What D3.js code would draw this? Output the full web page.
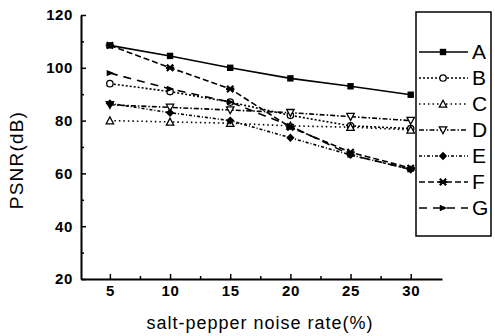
<!DOCTYPE html>
<html>
<head>
<meta charset="utf-8">
<script src="https://cdn.jsdelivr.net/npm/d3@7"></script>
<style>
  body { margin: 0; background: #fff; }
  svg { font-family: Arial, "Liberation Sans", sans-serif; }
</style>
</head>
<body>
<svg width="495" height="336"></svg>
<script>
const rates = [5, 10, 15, 20, 25, 30];
const names = ['A', 'B', 'C', 'D', 'E', 'F', 'G'];
const valuesA = [108.5, 104.5, 100, 96, 93, 89.8];
const valuesB = [94, 91, 87, 82, 78, 77];
const valuesC = [80, 79.5, 79, 78, 77.5, 76.5];
const valuesD = [86, 85, 84, 83, 81.5, 80];
const valuesE = [86.5, 83, 80, 73.5, 67, 61.5];
const valuesF = [108.5, 100, 92, 77.5, 68, 62];
const valuesG = [98, 92, 87, 78, 67, 61.5];
const yTicks = [20, 40, 60, 80, 100, 120];

const series = [valuesA, valuesB, valuesC, valuesD, valuesE, valuesF, valuesG];
const dashes = ['none', '2,2', '1.5,3', '5,2,1.5,2', '3,2,1,2', '6,3', '8,6'];
const markers = ['square', 'circle', 'triangle', 'triangleDown', 'diamond', 'star', 'arrow'];

const svg = d3.select('svg');

const x = d3.scaleLinear().domain([2.6, 32.6]).range([81, 442]);
const y = d3.scaleLinear().domain([20, 120]).range([279, 15]);

svg.append('g')
  .attr('transform', `translate(0, ${y(20)})`)
  .call(d3.axisBottom(x).tickValues(rates).tickSize(-5).tickSizeOuter(0).tickPadding(6));
svg.append('g')
  .attr('transform', `translate(0, ${y(20)})`)
  .call(d3.axisBottom(x).tickValues(d3.range(7.5, 31, 5)).tickSize(-3).tickFormat(''))
  .select('.domain').remove();

svg.append('g')
  .attr('transform', `translate(${x.range()[0]}, 0)`)
  .call(d3.axisLeft(y).tickValues(yTicks).tickSize(-5).tickSizeOuter(0).tickPadding(8));
svg.append('g')
  .attr('transform', `translate(${x.range()[0]}, 0)`)
  .call(d3.axisLeft(y).tickValues(d3.range(30, 111, 20)).tickSize(-3).tickFormat(''))
  .select('.domain').remove();

svg.selectAll('.domain').attr('stroke', '#000').attr('stroke-width', 2);
svg.selectAll('.tick line').attr('stroke', '#000').attr('stroke-width', 1.5);
svg.selectAll('.tick text')
  .attr('font-size', 15)
  .attr('font-weight', 'bold')
  .attr('letter-spacing', 0.6)
  .attr('fill', '#000');

svg.append('text')
  .attr('x', 260)
  .attr('y', 329)
  .attr('text-anchor', 'middle')
  .attr('font-size', 18)
  .attr('letter-spacing', 1)
  .text('salt-pepper noise rate(%)');

svg.append('text')
  .attr('transform', 'translate(23, 160) rotate(-90)')
  .attr('text-anchor', 'middle')
  .attr('font-size', 19)
  .attr('letter-spacing', 1.2)
  .text('PSNR(dB)');

function drawMarker(g, type, cx, cy) {
  const s = 3.2;
  switch (type) {
    case 'square':
      g.append('rect').attr('x', cx - s).attr('y', cy - s).attr('width', 2 * s).attr('height', 2 * s).attr('fill', '#000');
      break;
    case 'circle':
      g.append('circle').attr('cx', cx).attr('cy', cy).attr('r', s).attr('fill', '#fff').attr('stroke', '#000').attr('stroke-width', 1.3);
      break;
    case 'triangle':
      g.append('path').attr('d', `M${cx},${cy - s - 0.5}L${cx + s + 0.5},${cy + s}L${cx - s - 0.5},${cy + s}Z`).attr('fill', '#fff').attr('stroke', '#000').attr('stroke-width', 1.3);
      break;
    case 'triangleDown':
      g.append('path').attr('d', `M${cx},${cy + s + 0.5}L${cx + s + 0.5},${cy - s}L${cx - s - 0.5},${cy - s}Z`).attr('fill', '#fff').attr('stroke', '#000').attr('stroke-width', 1.3);
      break;
    case 'diamond':
      g.append('path').attr('d', `M${cx},${cy - s - 1}L${cx + s + 1},${cy}L${cx},${cy + s + 1}L${cx - s - 1},${cy}Z`).attr('fill', '#000');
      break;
    case 'star':
      g.append('path').attr('d', `M${cx - s},${cy - s}L${cx + s},${cy + s}M${cx + s},${cy - s}L${cx - s},${cy + s}M${cx - s - 1},${cy}L${cx + s + 1},${cy}`).attr('stroke', '#000').attr('stroke-width', 2.2);
      break;
    case 'arrow':
      g.append('path').attr('d', `M${cx - s},${cy - s}L${cx + s + 1},${cy}L${cx - s},${cy + s}Z`).attr('fill', '#000');
      break;
  }
}

const line = d3.line()
  .x((d, i) => x(rates[i]))
  .y(d => y(d));

series.forEach((vals, k) => {
  const g = svg.append('g');
  g.append('path')
    .datum(vals)
    .attr('d', line)
    .attr('fill', 'none')
    .attr('stroke', '#000')
    .attr('stroke-width', 1.6)
    .attr('stroke-dasharray', dashes[k]);
  vals.forEach((v, i) => drawMarker(g, markers[k], x(rates[i]), y(v)));
});

const legend = svg.append('g');
legend.append('rect')
  .attr('x', 416).attr('y', 12)
  .attr('width', 75).attr('height', 224)
  .attr('fill', '#fff')
  .attr('stroke', '#000')
  .attr('stroke-width', 1.5);

names.forEach((n, k) => {
  const ly = 52 + k * 26;
  legend.append('line')
    .attr('x1', 419).attr('x2', 468)
    .attr('y1', ly).attr('y2', ly)
    .attr('stroke', '#000')
    .attr('stroke-width', 1.5)
    .attr('stroke-dasharray', dashes[k]);
  drawMarker(legend, markers[k], 443, ly);
  legend.append('text')
    .attr('x', 472).attr('y', ly + 7)
    .attr('font-size', 21)
    .text(n);
});
</script>
</body>
</html>
